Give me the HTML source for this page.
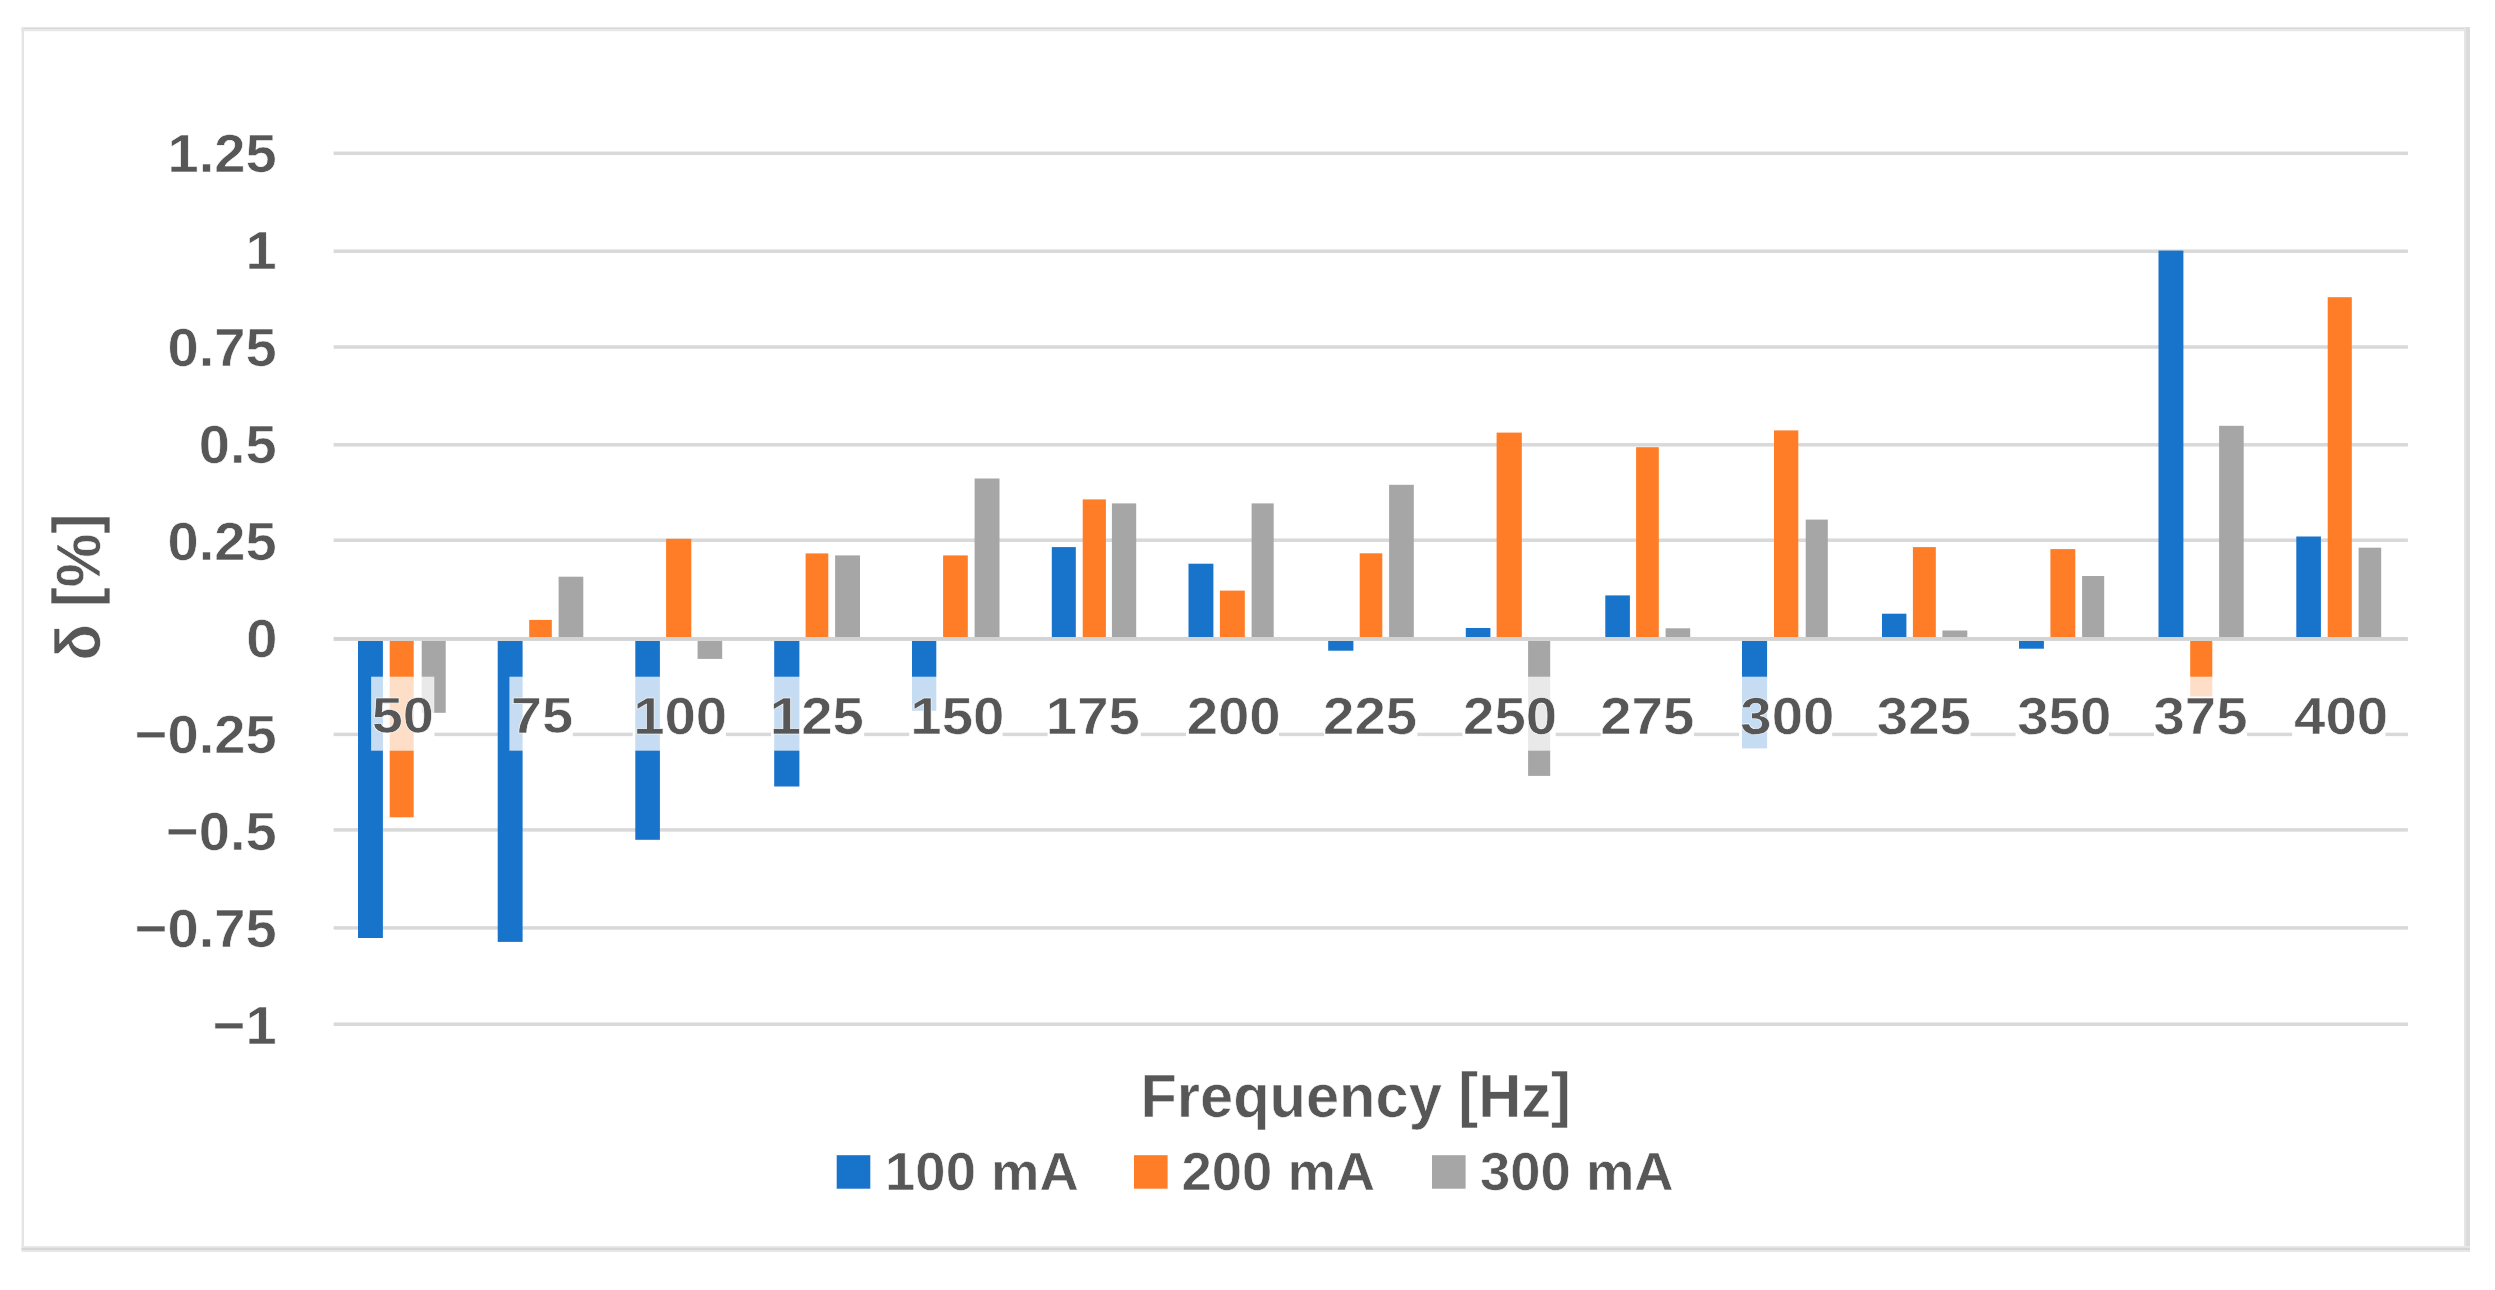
<!DOCTYPE html>
<html lang="en">
<head>
<meta charset="utf-8">
<title>Relative error vs frequency</title>
<style>
html,body{margin:0;padding:0;background:#fff;}
body{width:2495px;height:1290px;overflow:hidden;}
svg{display:block;}
text{font-family:"Liberation Sans",sans-serif;font-weight:700;fill:#575757;stroke:#ffffff;stroke-width:0.6px;}
</style>
</head>
<body>
<svg width="2495" height="1290" viewBox="0 0 2495 1290">
<rect x="0" y="0" width="2495" height="1290" fill="#ffffff"/>
<g id="frame">
<rect x="21.6" y="27.4" width="2448.4" height="2.0" fill="#D6D6D6"/>
<rect x="21.6" y="29.4" width="2448.4" height="1.8" fill="#E6E6E6"/>
<rect x="21.6" y="27.4" width="2.4" height="1224" fill="#E4E4E4"/>
<rect x="2464" y="27.4" width="2.2" height="1224.6" fill="#E4E4E4"/>
<rect x="2466" y="27.4" width="4" height="1224.6" fill="#DBDBDB"/>
<rect x="21.6" y="1246" width="2448.4" height="6" fill="#E8E8E8"/>
<rect x="21.6" y="1247.8" width="2448.4" height="2.3" fill="#D6D6D6"/>
</g>
<g id="grid" fill="#D9D9D9">
<rect x="333.6" y="151.55" width="2074.3" height="3.5"/>
<rect x="333.6" y="249.45" width="2074.3" height="3.5"/>
<rect x="333.6" y="345.25" width="2074.3" height="3.5"/>
<rect x="333.6" y="443.05" width="2074.3" height="3.5"/>
<rect x="333.6" y="538.45" width="2074.3" height="3.5"/>
<rect x="333.6" y="732.65" width="37.5" height="3.5"/>
<rect x="434.3" y="732.65" width="75.1" height="3.5"/>
<rect x="572.6" y="732.65" width="60.2" height="3.5"/>
<rect x="725.8" y="732.65" width="45.3" height="3.5"/>
<rect x="864.1" y="732.65" width="45.3" height="3.5"/>
<rect x="1002.4" y="732.65" width="45.3" height="3.5"/>
<rect x="1140.7" y="732.65" width="45.3" height="3.5"/>
<rect x="1279.0" y="732.65" width="45.3" height="3.5"/>
<rect x="1417.2" y="732.65" width="45.3" height="3.5"/>
<rect x="1555.5" y="732.65" width="45.3" height="3.5"/>
<rect x="1693.8" y="732.65" width="45.3" height="3.5"/>
<rect x="1832.1" y="732.65" width="45.3" height="3.5"/>
<rect x="1970.4" y="732.65" width="45.3" height="3.5"/>
<rect x="2108.7" y="732.65" width="45.3" height="3.5"/>
<rect x="2247.0" y="732.65" width="45.3" height="3.5"/>
<rect x="2385.3" y="732.65" width="22.6" height="3.5"/>
<rect x="333.6" y="828.15" width="2074.3" height="3.5"/>
<rect x="333.6" y="926.15" width="2074.3" height="3.5"/>
<rect x="333.6" y="1022.45" width="2074.3" height="3.5"/>
</g>
<g id="bars">
<rect x="358.0" y="640.8" width="24.9" height="297.2" fill="#1873CB"/>
<rect x="389.7" y="640.8" width="24.0" height="176.5" fill="#FF7D26"/>
<rect x="421.7" y="640.8" width="24.0" height="72.0" fill="#A6A6A6"/>
<rect x="497.7" y="640.8" width="24.9" height="301.1" fill="#1873CB"/>
<rect x="529.2" y="619.9" width="22.6" height="18.8" fill="#FF7D26"/>
<rect x="558.6" y="576.7" width="24.7" height="62.0" fill="#A6A6A6"/>
<rect x="635.3" y="640.8" width="24.6" height="199.0" fill="#1873CB"/>
<rect x="666.1" y="538.8" width="25.2" height="99.9" fill="#FF7D26"/>
<rect x="697.6" y="640.8" width="24.6" height="18.1" fill="#A6A6A6"/>
<rect x="774.2" y="640.8" width="25.2" height="145.7" fill="#1873CB"/>
<rect x="805.6" y="553.4" width="22.7" height="85.3" fill="#FF7D26"/>
<rect x="835.1" y="555.4" width="24.9" height="83.3" fill="#A6A6A6"/>
<rect x="912.0" y="640.8" width="24.3" height="70.0" fill="#1873CB"/>
<rect x="943.1" y="555.4" width="24.7" height="83.3" fill="#FF7D26"/>
<rect x="974.6" y="478.5" width="24.9" height="160.2" fill="#A6A6A6"/>
<rect x="1051.8" y="547.1" width="24.0" height="91.6" fill="#1873CB"/>
<rect x="1082.7" y="499.4" width="23.2" height="139.3" fill="#FF7D26"/>
<rect x="1111.9" y="503.4" width="24.3" height="135.3" fill="#A6A6A6"/>
<rect x="1188.5" y="563.7" width="24.9" height="75.0" fill="#1873CB"/>
<rect x="1219.9" y="590.6" width="24.9" height="48.1" fill="#FF7D26"/>
<rect x="1251.6" y="503.4" width="22.1" height="135.3" fill="#A6A6A6"/>
<rect x="1328.2" y="640.8" width="25.2" height="9.9" fill="#1873CB"/>
<rect x="1359.7" y="553.3" width="22.6" height="85.4" fill="#FF7D26"/>
<rect x="1389.1" y="484.8" width="24.7" height="153.9" fill="#A6A6A6"/>
<rect x="1465.8" y="628.0" width="24.6" height="10.7" fill="#1873CB"/>
<rect x="1496.6" y="432.6" width="25.2" height="206.1" fill="#FF7D26"/>
<rect x="1528.1" y="640.8" width="22.1" height="135.1" fill="#A6A6A6"/>
<rect x="1605.3" y="595.4" width="24.6" height="43.3" fill="#1873CB"/>
<rect x="1636.1" y="447.2" width="22.7" height="191.5" fill="#FF7D26"/>
<rect x="1665.6" y="628.3" width="24.6" height="10.4" fill="#A6A6A6"/>
<rect x="1742.0" y="640.8" width="25.1" height="107.6" fill="#1873CB"/>
<rect x="1774.0" y="430.4" width="24.3" height="208.3" fill="#FF7D26"/>
<rect x="1805.7" y="519.6" width="22.1" height="119.1" fill="#A6A6A6"/>
<rect x="1882.0" y="613.7" width="24.4" height="25.0" fill="#1873CB"/>
<rect x="1912.9" y="547.1" width="22.9" height="91.6" fill="#FF7D26"/>
<rect x="1942.4" y="630.5" width="24.9" height="8.2" fill="#A6A6A6"/>
<rect x="2019.0" y="640.8" width="24.9" height="7.9" fill="#1873CB"/>
<rect x="2050.4" y="549.1" width="24.9" height="89.6" fill="#FF7D26"/>
<rect x="2082.1" y="576.0" width="22.1" height="62.7" fill="#A6A6A6"/>
<rect x="2158.5" y="250.6" width="24.9" height="388.1" fill="#1873CB"/>
<rect x="2190.2" y="640.8" width="22.1" height="55.7" fill="#FF7D26"/>
<rect x="2219.1" y="425.8" width="24.6" height="212.9" fill="#A6A6A6"/>
<rect x="2296.3" y="536.5" width="24.6" height="102.2" fill="#1873CB"/>
<rect x="2327.7" y="297.2" width="24.1" height="341.5" fill="#FF7D26"/>
<rect x="2358.6" y="547.7" width="22.6" height="91.0" fill="#A6A6A6"/>
</g>
<rect x="333.6" y="637.00" width="2074.3" height="3.9" fill="#D3D3D3"/>
<g id="xlabels">
<rect x="371.1" y="676.7" width="63.2" height="74" fill="#ffffff" fill-opacity="0.75"/>
<rect x="509.4" y="676.7" width="63.2" height="74" fill="#ffffff" fill-opacity="0.75"/>
<rect x="632.8" y="676.7" width="93.0" height="74" fill="#ffffff" fill-opacity="0.75"/>
<rect x="771.1" y="676.7" width="93.0" height="74" fill="#ffffff" fill-opacity="0.75"/>
<rect x="909.4" y="676.7" width="93.0" height="74" fill="#ffffff" fill-opacity="0.75"/>
<rect x="1047.7" y="676.7" width="93.0" height="74" fill="#ffffff" fill-opacity="0.75"/>
<rect x="1186.0" y="676.7" width="93.0" height="74" fill="#ffffff" fill-opacity="0.75"/>
<rect x="1324.2" y="676.7" width="93.0" height="74" fill="#ffffff" fill-opacity="0.75"/>
<rect x="1462.5" y="676.7" width="93.0" height="74" fill="#ffffff" fill-opacity="0.75"/>
<rect x="1600.8" y="676.7" width="93.0" height="74" fill="#ffffff" fill-opacity="0.75"/>
<rect x="1739.1" y="676.7" width="93.0" height="74" fill="#ffffff" fill-opacity="0.75"/>
<rect x="1877.4" y="676.7" width="93.0" height="74" fill="#ffffff" fill-opacity="0.75"/>
<rect x="2015.7" y="676.7" width="93.0" height="74" fill="#ffffff" fill-opacity="0.75"/>
<rect x="2154.0" y="676.7" width="93.0" height="74" fill="#ffffff" fill-opacity="0.75"/>
<rect x="2292.3" y="676.7" width="93.0" height="74" fill="#ffffff" fill-opacity="0.75"/>
<text transform="translate(371.65,733.3) scale(1.1131,1)" font-size="50.3">50</text>
<text transform="translate(510.75,733.3) scale(1.1131,1)" font-size="50.3">75</text>
<text transform="translate(633.15,734.2) scale(1.0721,1)" font-size="52.6">100</text>
<text transform="translate(769.78,734.2) scale(1.0721,1)" font-size="52.6">125</text>
<text transform="translate(910.35,734.2) scale(1.0721,1)" font-size="52.6">150</text>
<text transform="translate(1045.83,734.2) scale(1.0721,1)" font-size="52.6">175</text>
<text transform="translate(1186.64,734.2) scale(1.0721,1)" font-size="52.6">200</text>
<text transform="translate(1323.07,734.2) scale(1.0721,1)" font-size="52.6">225</text>
<text transform="translate(1463.04,734.2) scale(1.0721,1)" font-size="52.6">250</text>
<text transform="translate(1600.22,734.2) scale(1.0721,1)" font-size="52.6">275</text>
<text transform="translate(1740.27,734.2) scale(1.0721,1)" font-size="52.6">300</text>
<text transform="translate(1876.81,734.2) scale(1.0721,1)" font-size="52.6">325</text>
<text transform="translate(2017.17,734.2) scale(1.0721,1)" font-size="52.6">350</text>
<text transform="translate(2153.51,734.2) scale(1.0721,1)" font-size="52.6">375</text>
<text transform="translate(2294.12,734.2) scale(1.0721,1)" font-size="52.6">400</text>
</g>
<g id="ylabels">
<text transform="translate(167.56,172.3) scale(1.0331,1)" font-size="54.3">1.25</text>
<text transform="translate(245.53,269.1) scale(1.0331,1)" font-size="54.3">1</text>
<text transform="translate(167.56,366.0) scale(1.0331,1)" font-size="54.3">0.75</text>
<text transform="translate(198.75,462.8) scale(1.0331,1)" font-size="54.3">0.5</text>
<text transform="translate(167.56,559.6) scale(1.0331,1)" font-size="54.3">0.25</text>
<text transform="translate(246.26,656.5) scale(1.0331,1)" font-size="54.3">0</text>
<text transform="translate(134.80,753.3) scale(1.0331,1)" font-size="54.3">−0.25</text>
<text transform="translate(165.99,850.1) scale(1.0331,1)" font-size="54.3">−0.5</text>
<text transform="translate(134.80,946.9) scale(1.0331,1)" font-size="54.3">−0.75</text>
<text transform="translate(212.77,1043.8) scale(1.0331,1)" font-size="54.3">−1</text>
</g>
<text id="xtitle" transform="translate(1140.47,1116.9) scale(0.9802,1)" font-size="60.8">Frequency <tspan dy="-2">[</tspan><tspan dy="2">Hz</tspan><tspan dy="-2">]</tspan></text>
<text id="ytitle" transform="translate(99.6,660.51) rotate(-90) scale(0.9432,1)" font-size="63.8">δ <tspan dy="-3.0">[</tspan><tspan dy="3.0">%</tspan><tspan dy="-3.0">]</tspan></text>
<g id="legend">
<rect x="836.7" y="1155.2" width="33.6" height="33.5" fill="#1873CB"/>
<text transform="translate(885.09,1190.3) scale(1.0158,1)" font-size="53.6">100 mA</text>
<rect x="1134.0" y="1155.2" width="33.6" height="33.5" fill="#FF7D26"/>
<text transform="translate(1181.45,1190.3) scale(1.0158,1)" font-size="53.6">200 mA</text>
<rect x="1432.0" y="1155.2" width="33.6" height="33.5" fill="#A6A6A6"/>
<text transform="translate(1479.93,1190.3) scale(1.0158,1)" font-size="53.6">300 mA</text>
</g>
</svg>
</body>
</html>
